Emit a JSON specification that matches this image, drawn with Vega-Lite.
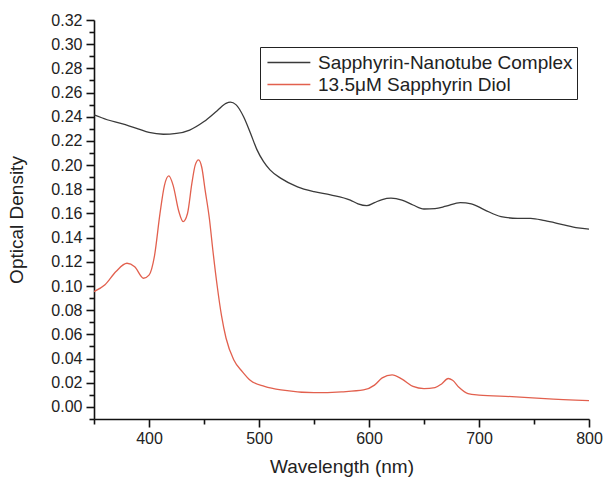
{
  "$schema": "https://vega.github.io/schema/vega-lite/v6.json",
  "width": 495,
  "height": 399,
  "autosize": {"type": "none"},
  "padding": {"left": 94, "top": 20, "right": 14, "bottom": 60},
  "config": {"view": {"stroke": null}, "font": "Liberation Sans"},
  "data": {"values": [
    {"wl":350,"od":0.2415,"s":"Sapphyrin-Nanotube Complex"},
    {"wl":362,"od":0.2375,"s":"Sapphyrin-Nanotube Complex"},
    {"wl":376,"od":0.234,"s":"Sapphyrin-Nanotube Complex"},
    {"wl":390,"od":0.230,"s":"Sapphyrin-Nanotube Complex"},
    {"wl":400,"od":0.227,"s":"Sapphyrin-Nanotube Complex"},
    {"wl":413,"od":0.2255,"s":"Sapphyrin-Nanotube Complex"},
    {"wl":425,"od":0.2262,"s":"Sapphyrin-Nanotube Complex"},
    {"wl":437,"od":0.229,"s":"Sapphyrin-Nanotube Complex"},
    {"wl":450,"od":0.236,"s":"Sapphyrin-Nanotube Complex"},
    {"wl":462,"od":0.245,"s":"Sapphyrin-Nanotube Complex"},
    {"wl":470,"od":0.251,"s":"Sapphyrin-Nanotube Complex"},
    {"wl":474,"od":0.252,"s":"Sapphyrin-Nanotube Complex"},
    {"wl":479,"od":0.250,"s":"Sapphyrin-Nanotube Complex"},
    {"wl":486,"od":0.240,"s":"Sapphyrin-Nanotube Complex"},
    {"wl":492,"od":0.227,"s":"Sapphyrin-Nanotube Complex"},
    {"wl":498,"od":0.213,"s":"Sapphyrin-Nanotube Complex"},
    {"wl":504,"od":0.203,"s":"Sapphyrin-Nanotube Complex"},
    {"wl":510,"od":0.196,"s":"Sapphyrin-Nanotube Complex"},
    {"wl":520,"od":0.189,"s":"Sapphyrin-Nanotube Complex"},
    {"wl":535,"od":0.182,"s":"Sapphyrin-Nanotube Complex"},
    {"wl":550,"od":0.178,"s":"Sapphyrin-Nanotube Complex"},
    {"wl":565,"od":0.1753,"s":"Sapphyrin-Nanotube Complex"},
    {"wl":583,"od":0.171,"s":"Sapphyrin-Nanotube Complex"},
    {"wl":590,"od":0.168,"s":"Sapphyrin-Nanotube Complex"},
    {"wl":598,"od":0.1665,"s":"Sapphyrin-Nanotube Complex"},
    {"wl":605,"od":0.169,"s":"Sapphyrin-Nanotube Complex"},
    {"wl":612,"od":0.1715,"s":"Sapphyrin-Nanotube Complex"},
    {"wl":620,"od":0.1726,"s":"Sapphyrin-Nanotube Complex"},
    {"wl":630,"od":0.171,"s":"Sapphyrin-Nanotube Complex"},
    {"wl":640,"od":0.167,"s":"Sapphyrin-Nanotube Complex"},
    {"wl":650,"od":0.1637,"s":"Sapphyrin-Nanotube Complex"},
    {"wl":660,"od":0.164,"s":"Sapphyrin-Nanotube Complex"},
    {"wl":670,"od":0.166,"s":"Sapphyrin-Nanotube Complex"},
    {"wl":683,"od":0.169,"s":"Sapphyrin-Nanotube Complex"},
    {"wl":693,"od":0.168,"s":"Sapphyrin-Nanotube Complex"},
    {"wl":705,"od":0.163,"s":"Sapphyrin-Nanotube Complex"},
    {"wl":720,"od":0.1574,"s":"Sapphyrin-Nanotube Complex"},
    {"wl":735,"od":0.156,"s":"Sapphyrin-Nanotube Complex"},
    {"wl":747,"od":0.156,"s":"Sapphyrin-Nanotube Complex"},
    {"wl":760,"od":0.154,"s":"Sapphyrin-Nanotube Complex"},
    {"wl":775,"od":0.151,"s":"Sapphyrin-Nanotube Complex"},
    {"wl":790,"od":0.148,"s":"Sapphyrin-Nanotube Complex"},
    {"wl":800,"od":0.147,"s":"Sapphyrin-Nanotube Complex"},
    {"wl":350,"od":0.0954,"s":"13.5μM Sapphyrin Diol"},
    {"wl":360,"od":0.101,"s":"13.5μM Sapphyrin Diol"},
    {"wl":370,"od":0.112,"s":"13.5μM Sapphyrin Diol"},
    {"wl":380,"od":0.1188,"s":"13.5μM Sapphyrin Diol"},
    {"wl":387,"od":0.116,"s":"13.5μM Sapphyrin Diol"},
    {"wl":395,"od":0.1064,"s":"13.5μM Sapphyrin Diol"},
    {"wl":400,"od":0.109,"s":"13.5μM Sapphyrin Diol"},
    {"wl":405,"od":0.125,"s":"13.5μM Sapphyrin Diol"},
    {"wl":410,"od":0.160,"s":"13.5μM Sapphyrin Diol"},
    {"wl":414,"od":0.183,"s":"13.5μM Sapphyrin Diol"},
    {"wl":418,"od":0.191,"s":"13.5μM Sapphyrin Diol"},
    {"wl":422,"od":0.183,"s":"13.5μM Sapphyrin Diol"},
    {"wl":427,"od":0.162,"s":"13.5μM Sapphyrin Diol"},
    {"wl":431,"od":0.1533,"s":"13.5μM Sapphyrin Diol"},
    {"wl":435,"od":0.160,"s":"13.5μM Sapphyrin Diol"},
    {"wl":439,"od":0.185,"s":"13.5μM Sapphyrin Diol"},
    {"wl":442,"od":0.200,"s":"13.5μM Sapphyrin Diol"},
    {"wl":445,"od":0.2043,"s":"13.5μM Sapphyrin Diol"},
    {"wl":448,"od":0.198,"s":"13.5μM Sapphyrin Diol"},
    {"wl":451,"od":0.1795,"s":"13.5μM Sapphyrin Diol"},
    {"wl":455,"od":0.155,"s":"13.5μM Sapphyrin Diol"},
    {"wl":458,"od":0.130,"s":"13.5μM Sapphyrin Diol"},
    {"wl":462,"od":0.100,"s":"13.5μM Sapphyrin Diol"},
    {"wl":466,"od":0.075,"s":"13.5μM Sapphyrin Diol"},
    {"wl":470,"od":0.057,"s":"13.5μM Sapphyrin Diol"},
    {"wl":477,"od":0.039,"s":"13.5μM Sapphyrin Diol"},
    {"wl":485,"od":0.029,"s":"13.5μM Sapphyrin Diol"},
    {"wl":492,"od":0.022,"s":"13.5μM Sapphyrin Diol"},
    {"wl":505,"od":0.017,"s":"13.5μM Sapphyrin Diol"},
    {"wl":520,"od":0.014,"s":"13.5μM Sapphyrin Diol"},
    {"wl":550,"od":0.0118,"s":"13.5μM Sapphyrin Diol"},
    {"wl":575,"od":0.0125,"s":"13.5μM Sapphyrin Diol"},
    {"wl":595,"od":0.014,"s":"13.5μM Sapphyrin Diol"},
    {"wl":605,"od":0.018,"s":"13.5μM Sapphyrin Diol"},
    {"wl":612,"od":0.024,"s":"13.5μM Sapphyrin Diol"},
    {"wl":621,"od":0.0265,"s":"13.5μM Sapphyrin Diol"},
    {"wl":630,"od":0.023,"s":"13.5μM Sapphyrin Diol"},
    {"wl":640,"od":0.017,"s":"13.5μM Sapphyrin Diol"},
    {"wl":650,"od":0.0152,"s":"13.5μM Sapphyrin Diol"},
    {"wl":660,"od":0.016,"s":"13.5μM Sapphyrin Diol"},
    {"wl":666,"od":0.019,"s":"13.5μM Sapphyrin Diol"},
    {"wl":672,"od":0.0235,"s":"13.5μM Sapphyrin Diol"},
    {"wl":676,"od":0.022,"s":"13.5μM Sapphyrin Diol"},
    {"wl":682,"od":0.016,"s":"13.5μM Sapphyrin Diol"},
    {"wl":690,"od":0.011,"s":"13.5μM Sapphyrin Diol"},
    {"wl":700,"od":0.0098,"s":"13.5μM Sapphyrin Diol"},
    {"wl":730,"od":0.0085,"s":"13.5μM Sapphyrin Diol"},
    {"wl":760,"od":0.0068,"s":"13.5μM Sapphyrin Diol"},
    {"wl":800,"od":0.0052,"s":"13.5μM Sapphyrin Diol"}
  ]},
  "mark": {"type": "line", "interpolate": "monotone", "strokeWidth": 1.3, "clip": true},
  "encoding": {
    "x": {
      "field": "wl", "type": "quantitative",
      "scale": {"domain": [350, 800], "nice": false, "zero": false},
      "axis": {
        "title": "Wavelength (nm)",
        "values": [350, 400, 450, 500, 550, 600, 650, 700, 750, 800],
        "labelExpr": "datum.value % 100 == 0 ? datum.label : ''",
        "tickSize": {"condition": {"test": "datum.value % 100 == 0", "value": 8}, "value": 5},
        "grid": false, "labelOverlap": false, "labelFlush": false,
        "domainColor": "#111", "domainWidth": 1.6, "tickColor": "#111", "tickWidth": 1.6,
        "labelFontSize": 16, "labelColor": "#222", "labelPadding": 3,
        "titleFontSize": 19, "titleFontWeight": "normal", "titleColor": "#222", "titlePadding": 11
      }
    },
    "y": {
      "field": "od", "type": "quantitative",
      "scale": {"domain": [-0.01, 0.32], "nice": false, "zero": false},
      "axis": {
        "title": "Optical Density",
        "values": [-0.01, 0, 0.01, 0.02, 0.03, 0.04, 0.05, 0.06, 0.07, 0.08, 0.09, 0.1, 0.11, 0.12, 0.13, 0.14, 0.15, 0.16, 0.17, 0.18, 0.19, 0.2, 0.21, 0.22, 0.23, 0.24, 0.25, 0.26, 0.27, 0.28, 0.29, 0.3, 0.31, 0.32],
        "labelExpr": "(round(datum.value*100) % 2 == 0 && datum.value > -0.005) ? format(datum.value, '.2f') : ''",
        "tickSize": {"condition": {"test": "round(datum.value*100) % 2 == 0", "value": 8}, "value": 5},
        "grid": false, "labelOverlap": false, "labelFlush": false,
        "domainColor": "#111", "domainWidth": 1.6, "tickColor": "#111", "tickWidth": 1.6,
        "labelFontSize": 16, "labelColor": "#222", "labelPadding": 4,
        "titleFontSize": 19, "titleFontWeight": "normal", "titleColor": "#222", "titlePadding": 24
      }
    },
    "color": {
      "field": "s", "type": "nominal",
      "scale": {"domain": ["Sapphyrin-Nanotube Complex", "13.5μM Sapphyrin Diol"], "range": ["#3a3a3a", "#e2604e"]},
      "legend": {
        "title": null, "orient": "none", "legendX": 166, "legendY": 27,
        "symbolType": "M-0.75,0H3.25", "symbolSize": 460, "symbolStrokeWidth": 1.3,
        "labelFontSize": 19, "labelColor": "#222", "labelLimit": 400,
        "strokeColor": "#222", "padding": 4, "rowPadding": 0, "labelOffset": 31
      }
    }
  }
}
